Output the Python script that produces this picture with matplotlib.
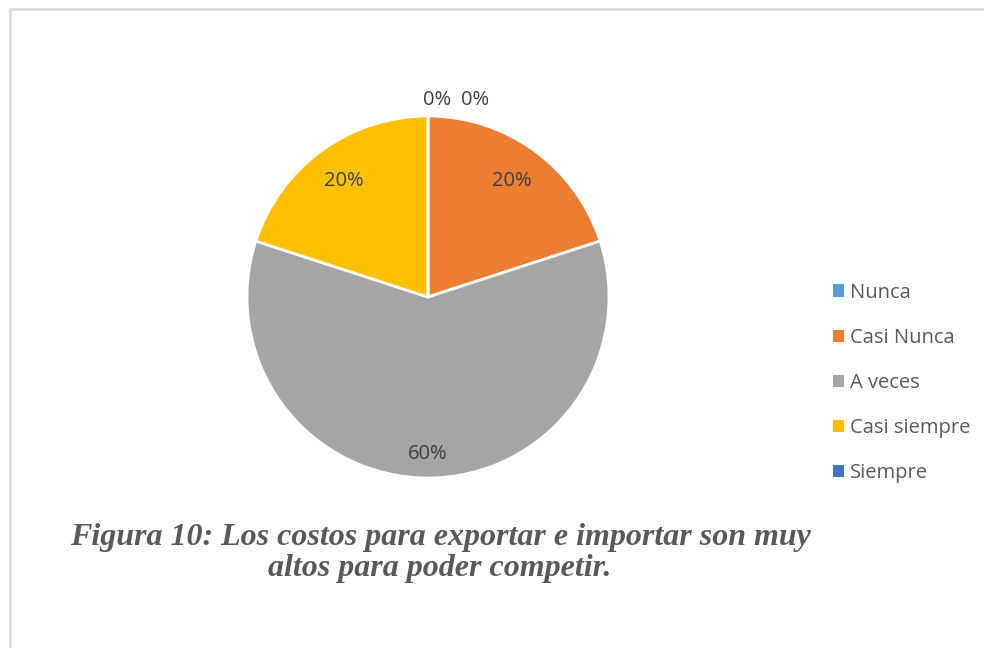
import matplotlib
matplotlib.use("Agg")
import matplotlib.pyplot as plt
from matplotlib.patches import Rectangle, Patch
import numpy as np

categories = ["Nunca", "Casi Nunca", "A veces", "Casi siempre", "Siempre"]
values = [0, 20, 60, 20, 0]
colors = ["#5B9BD5", "#ED7D31", "#A5A5A5", "#FFC000", "#4472C4"]
caption = "Figura 10: Los costos para exportar e importar son muy\naltos para poder competir."

W, H = 984, 648
fig = plt.figure(figsize=(W/100, H/100), dpi=100)
fig.patch.set_facecolor("white")

# border
fig.add_artist(Rectangle((10/W, -0.2), 1.2, 1 - 9/H + 0.2, transform=fig.transFigure,
                         fill=False, edgecolor="#D9D9D9", linewidth=1.8))

cx, cy, r = 428, 297, 181
ax = fig.add_axes([(cx - r)/W, (H - cy - r)/H, 2*r/W, 2*r/H])

wedges, texts, autotexts = ax.pie(values, colors=colors, startangle=90, counterclock=False,
                                  radius=1, autopct=lambda p: f"{p:.0f}%", pctdistance=0.79,
                                  wedgeprops=dict(edgecolor="white", linewidth=2),
                                  textprops=dict(fontsize=14.5, color="#404040", family="Open Sans"))
ax.set_xlim(-1, 1)
ax.set_ylim(-1, 1)
ax.set_aspect("equal")
ax.axis("off")
# zero-value labels placed above the top as in the reference
zero_pos = {0: (0.05, 1.09), 4: (0.26, 1.09)}
for i, t in enumerate(autotexts):
    if i in zero_pos:
        t.set_position(zero_pos[i])
    elif values[i] == 60:
        t.set_position((0.0, -0.865))
    t.set_clip_on(False)

handles = [Patch(facecolor=c, edgecolor="none") for c in colors]
leg = fig.legend(handles, categories, loc="center left", bbox_to_anchor=(815/W, 1 - 383/H),
                 frameon=False, handlelength=0.55, handleheight=0.55, handletextpad=0.3,
                 labelspacing=1.25, prop=dict(family="Open Sans", size=14.5))
for t in leg.get_texts():
    t.set_color("#595959")

fig.text(440/W, 1 - 553/H, caption, ha="center", va="center", family="Liberation Serif",
         style="italic", weight="bold", fontsize=23, color="#595959", linespacing=1.1)

fig.savefig("out.png", dpi=100)
